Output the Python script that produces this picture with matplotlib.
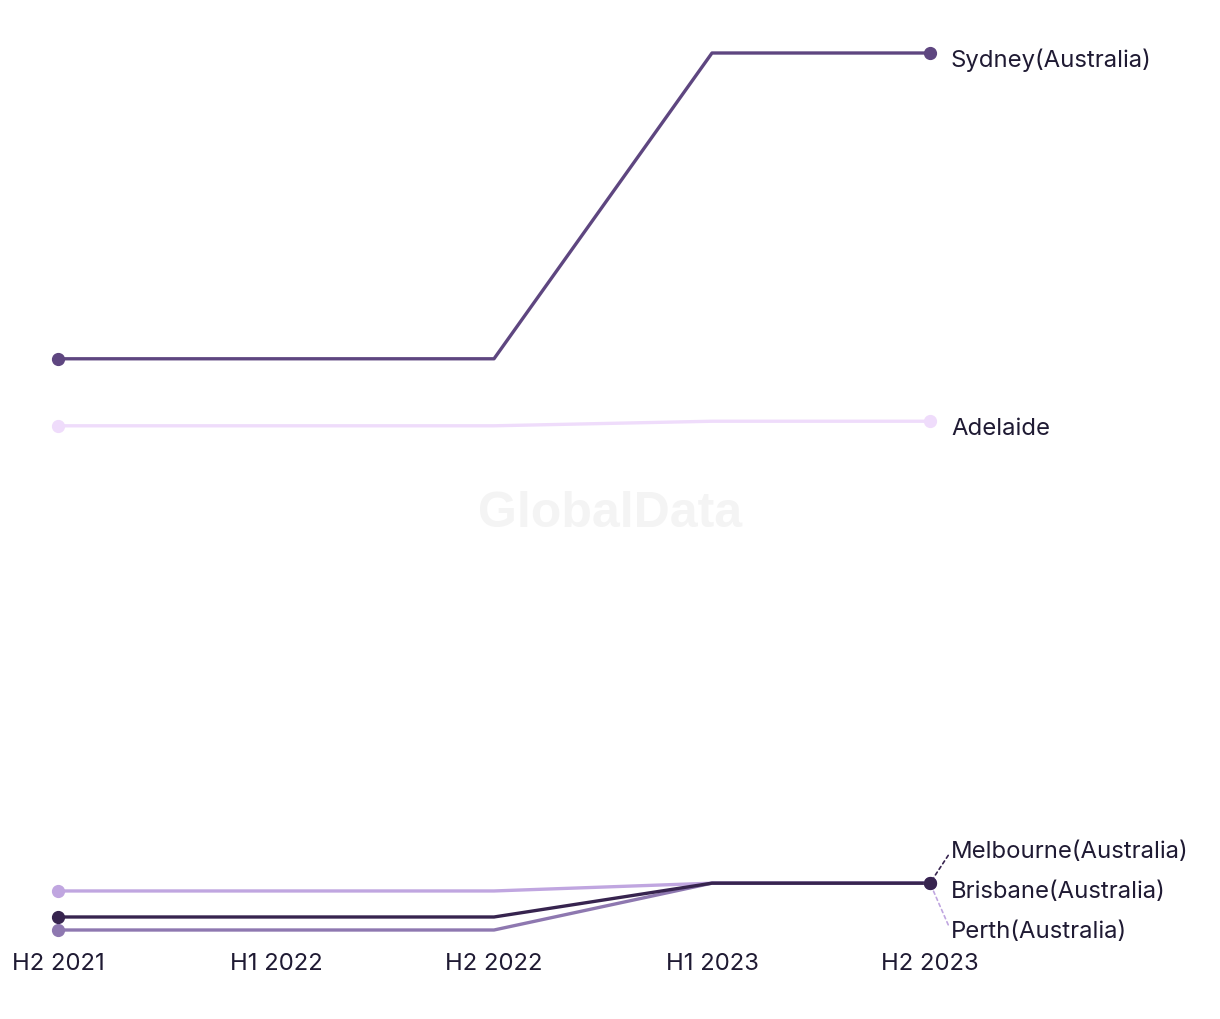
import matplotlib
matplotlib.use("Agg")
import matplotlib.pyplot as plt

plt.rcParams['font.family'] = ['Inter', 'DejaVu Sans']

periods = ["H2 2021", "H1 2022", "H2 2022", "H1 2023", "H2 2023"]

sydney = [88.8, 88.8, 88.8, 135.8, 135.8]
adelaide = [78.5, 78.5, 78.5, 79.2, 79.2]
perth = [7, 7, 7, 8.2, 8.2]
melbourne = [3, 3, 3, 8.2, 8.2]
brisbane = [1, 1, 1, 8.2, 8.2]

names = ["Sydney(Australia)", "Adelaide", "Perth(Australia)", "Brisbane(Australia)", "Melbourne(Australia)"]
series = [sydney, adelaide, perth, brisbane, melbourne]
colors = ["#5e4680", "#efdcfb", "#c0a6e0", "#8e78b0", "#37244f"]

W, H = 1220, 1020
fig = plt.figure(figsize=(W / 100, H / 100), dpi=100)
# axes spans data pixels: x 58..930, y 53..929
ax = fig.add_axes([58 / W, (H - 931) / H, 872 / W, (931 - 54) / H])
ax.set_xlim(0, 4)
ax.set_ylim(1, 135.8)

x = list(range(len(periods)))
for vals, c in zip(series, colors):
    ax.plot(x, vals, color=c, lw=2.4, solid_capstyle='round', clip_on=False, zorder=3)
    ax.plot([x[0], x[-1]], [vals[0], vals[-1]], 'o', color=c, ms=8.5, clip_on=False, zorder=4)

txt = "#1f1a33"
fs = 17.2
# end labels
ax.annotate(names[0], (4, sydney[-1]), xytext=(21, -6), textcoords='offset pixels',
            va='center', ha='left', fontsize=fs, color=txt, annotation_clip=False)
ax.annotate(names[1], (4, adelaide[-1]), xytext=(21, -7), textcoords='offset pixels',
            va='center', ha='left', fontsize=fs, color=txt, annotation_clip=False)
ax.annotate(names[4], (4, melbourne[-1]), xytext=(21, 32), textcoords='offset pixels',
            va='center', ha='left', fontsize=fs, color=txt, annotation_clip=False,
            arrowprops=dict(arrowstyle='-', color=colors[4], ls=(0, (2, 2)), lw=1.2,
                            shrinkA=0, shrinkB=0, relpos=(0, 0.5)))
ax.annotate(names[3], (4, brisbane[-1]), xytext=(21, -8), textcoords='offset pixels',
            va='center', ha='left', fontsize=fs, color=txt, annotation_clip=False)
ax.annotate(names[2], (4, perth[-1]), xytext=(21, -48), textcoords='offset pixels',
            va='center', ha='left', fontsize=fs, color=txt, annotation_clip=False,
            arrowprops=dict(arrowstyle='-', color=colors[2], ls=(0, (2, 2)), lw=1.2,
                            shrinkA=0, shrinkB=0, relpos=(0, 0.5)))

ax.set_xticks(x)
ax.set_xticklabels(periods, fontsize=fs, color=txt)
ax.tick_params(axis='x', length=0, pad=16)
ax.set_yticks([])
for s in ax.spines.values():
    s.set_visible(False)

# watermark
fig.text(610 / W, 1 - 514 / H, "GlobalData", ha='center', va='center',
         fontsize=36, fontweight='bold', color='#f4f4f4', zorder=0,
         family=['Liberation Sans', 'DejaVu Sans'])

fig.savefig("out.png", dpi=100, facecolor='white')
